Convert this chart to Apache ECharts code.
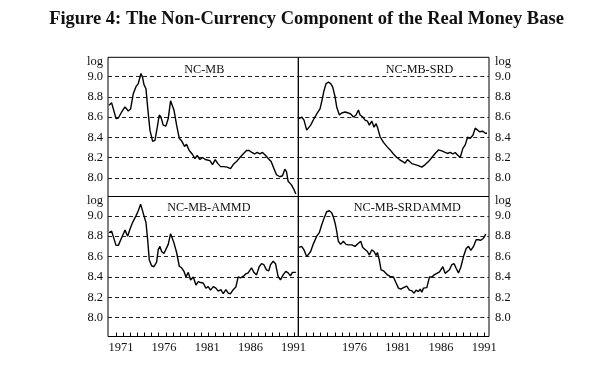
<!DOCTYPE html>
<html><head><meta charset="utf-8">
<script src="https://cdn.jsdelivr.net/npm/echarts@6/dist/echarts.min.js"></script>
<style>html,body{margin:0;padding:0;background:#fff}#c{width:600px;height:370px}</style>
</head><body><div id="c"></div>
<script>
const chartTitle = 'Figure 4: The Non-Currency Component of the Real Money Base';
const panelNames = ['NC-MB', 'NC-MB-SRD', 'NC-MB-AMMD', 'NC-MB-SRDAMMD'];
const yTickValues = [8.0, 8.2, 8.4, 8.6, 8.8, 9.0];
const xLabelsLeft = [1971, 1976, 1981, 1986, 1991];
const xLabelsRight = [1976, 1981, 1986, 1991];
const xTickValues = [1970.42,1971.25,1972.07,1972.90,1973.72,1974.55,1975.37,1976.20,1977.02,1977.85,
  1978.67,1979.50,1980.32,1981.15,1981.97,1982.80,1983.62,1984.45,1985.27,1986.10,
  1986.92,1987.75,1988.57,1989.40,1990.22,1991.05];

// NC-MB
const p1Years = [1969.62,1969.92,1970.12,1970.43,1970.70,1971.08,1971.47,1971.85,1972.12,1972.43,
  1972.74,1973.01,1973.32,1973.51,1973.67,1973.90,1974.09,1974.36,1974.67,1974.94,
  1975.21,1975.44,1975.63,1975.90,1976.21,1976.48,1976.75,1976.91,1977.14,1977.45,
  1977.76,1978.06,1978.37,1978.60,1978.91,1979.30,1979.57,1979.84,1980.15,1980.46,
  1980.77,1981.00,1981.31,1981.61,1981.92,1982.23,1982.54,1982.93,1983.31,1983.70,
  1984.01,1984.39,1984.78,1985.16,1985.55,1985.86,1986.17,1986.48,1986.78,1987.09,
  1987.40,1987.71,1988.06,1988.40,1988.71,1989.02,1989.41,1989.72,1989.99,1990.18,
  1990.37,1990.76,1991.07,1991.26];
const p1Vals = [8.716,8.74,8.73,8.585,8.59,8.65,8.70,8.66,8.68,8.83,
  8.90,8.93,9.03,8.99,8.92,8.88,8.70,8.47,8.36,8.37,
  8.50,8.62,8.60,8.52,8.51,8.585,8.76,8.77,8.67,8.52,
  8.39,8.36,8.31,8.33,8.27,8.23,8.19,8.22,8.18,8.20,
  8.18,8.19,8.17,8.13,8.18,8.14,8.11,8.11,8.105,8.09,
  8.13,8.16,8.20,8.235,8.27,8.27,8.25,8.235,8.25,8.235,
  8.25,8.225,8.19,8.16,8.095,8.03,8.01,8.02,8.085,8.06,
  7.965,7.93,7.88,7.84];

// NC-MB-SRD
const p2Years = [1969.58,1969.89,1970.16,1970.47,1970.66,1970.93,1971.32,1971.63,1972.01,1972.24,
  1972.47,1972.71,1972.98,1973.25,1973.48,1973.75,1973.94,1974.25,1974.52,1974.91,
  1975.29,1975.56,1975.87,1976.18,1976.45,1976.64,1976.95,1977.22,1977.49,1977.72,
  1977.99,1978.26,1978.49,1978.65,1978.96,1979.35,1979.73,1980.12,1980.50,1980.89,
  1981.20,1981.58,1981.85,1982.12,1982.35,1982.62,1983.01,1983.39,1983.78,1984.17,
  1984.55,1984.94,1985.32,1985.71,1986.09,1986.48,1986.75,1987.06,1987.37,1987.64,
  1987.91,1988.22,1988.53,1988.80,1989.07,1989.38,1989.69,1989.96,1990.15,1990.46,
  1990.85,1991.12,1991.32];
const p2Vals = [8.585,8.60,8.57,8.47,8.46,8.52,8.585,8.63,8.68,8.765,
  8.86,8.93,8.945,8.93,8.895,8.80,8.70,8.62,8.64,8.65,
  8.64,8.63,8.60,8.62,8.67,8.62,8.60,8.57,8.56,8.52,
  8.56,8.50,8.535,8.50,8.405,8.35,8.31,8.275,8.235,8.20,
  8.18,8.16,8.145,8.18,8.18,8.14,8.13,8.12,8.105,8.13,
  8.16,8.20,8.24,8.275,8.265,8.25,8.24,8.25,8.235,8.25,
  8.225,8.20,8.29,8.325,8.40,8.39,8.42,8.49,8.50,8.455,
  8.46,8.44,8.44];

// NC-MB-AMMD
const p3Years = [1969.62,1969.92,1970.12,1970.43,1970.70,1971.08,1971.47,1971.78,1972.05,1972.35,
  1972.74,1973.01,1973.28,1973.47,1973.67,1973.90,1974.09,1974.28,1974.55,1974.82,
  1975.13,1975.33,1975.52,1975.71,1975.98,1976.21,1976.48,1976.75,1976.91,1977.14,
  1977.45,1977.76,1978.03,1978.30,1978.53,1978.80,1979.07,1979.38,1979.69,1979.96,
  1980.23,1980.53,1980.84,1981.11,1981.38,1981.69,1982.00,1982.27,1982.58,1982.85,
  1983.16,1983.43,1983.70,1984.01,1984.31,1984.58,1984.85,1985.16,1985.47,1985.74,
  1986.13,1986.40,1986.71,1987.02,1987.29,1987.56,1987.86,1988.13,1988.33,1988.64,
  1988.91,1989.21,1989.48,1989.79,1990.10,1990.37,1990.64,1990.87,1991.26];
const p3Vals = [8.835,8.85,8.835,8.71,8.71,8.785,8.86,8.80,8.87,8.935,
  9.00,9.05,9.115,9.105,9.00,8.935,8.77,8.57,8.51,8.50,
  8.545,8.67,8.70,8.65,8.63,8.62,8.72,8.825,8.835,8.735,
  8.64,8.505,8.49,8.455,8.40,8.445,8.37,8.40,8.32,8.355,
  8.345,8.34,8.29,8.305,8.27,8.305,8.29,8.26,8.275,8.235,
  8.275,8.24,8.235,8.275,8.30,8.40,8.39,8.405,8.43,8.44,
  8.49,8.445,8.42,8.50,8.53,8.52,8.47,8.46,8.52,8.555,
  8.53,8.405,8.37,8.42,8.455,8.44,8.41,8.445,8.445];

// NC-MB-SRDAMMD
const p4Years = [1969.58,1969.89,1970.16,1970.47,1970.66,1970.93,1971.24,1971.63,1971.93,1972.20,
  1972.47,1972.78,1973.09,1973.36,1973.55,1973.75,1973.94,1974.13,1974.40,1974.71,
  1975.02,1975.29,1975.68,1976.06,1976.45,1976.72,1976.95,1977.22,1977.49,1977.72,
  1977.99,1978.26,1978.49,1978.65,1978.88,1979.07,1979.35,1979.54,1979.81,1980.12,
  1980.50,1980.81,1981.08,1981.35,1981.66,1981.85,1982.04,1982.35,1982.62,1982.89,
  1983.12,1983.39,1983.59,1983.78,1983.97,1984.36,1984.67,1984.94,1985.21,1985.52,
  1985.83,1986.21,1986.48,1986.67,1986.98,1987.25,1987.52,1987.75,1988.02,1988.29,
  1988.60,1988.91,1989.18,1989.45,1989.76,1990.06,1990.33,1990.60,1990.91,1991.18];
const p4Vals = [8.69,8.70,8.665,8.60,8.585,8.65,8.725,8.80,8.835,8.91,
  8.975,9.04,9.05,9.03,8.99,8.93,8.85,8.75,8.72,8.75,
  8.72,8.715,8.715,8.70,8.73,8.75,8.69,8.67,8.65,8.615,
  8.665,8.65,8.61,8.64,8.56,8.47,8.46,8.47,8.42,8.405,
  8.40,8.34,8.29,8.28,8.295,8.28,8.31,8.27,8.265,8.24,
  8.27,8.255,8.28,8.25,8.29,8.295,8.40,8.40,8.42,8.435,
  8.45,8.50,8.435,8.42,8.47,8.52,8.53,8.485,8.44,8.495,
  8.60,8.68,8.70,8.66,8.70,8.765,8.765,8.76,8.78,8.82];

const SERIF = "'Liberation Serif', 'DejaVu Serif', serif";
const INK = '#111';
const pair = (xs, ys) => xs.map((x, i) => [x, ys[i]]);
const seriesData = [pair(p1Years, p1Vals), pair(p2Years, p2Vals), pair(p3Years, p3Vals), pair(p4Years, p4Vals)];

const grids = [
  {left: 108, top: 57.3, width: 190.3, height: 139.2},
  {left: 298.3, top: 57.3, width: 190.7, height: 139.2},
  {left: 108, top: 196.5, width: 190.3, height: 140},
  {left: 298.3, top: 196.5, width: 190.7, height: 140}
].map(g => Object.assign(g, {show: true, borderColor: '#000', borderWidth: 1, backgroundColor: 'transparent', containLabel: false}));

const xAxes = [0,1,2,3].map(i => {
  const bottom = i >= 2;
  return {
    type: 'value', gridIndex: i, min: 1969.5, max: 1991.55,
    axisLine: {show: false},
    splitLine: {show: false},
    axisTick: {show: bottom, inside: true, length: 4, customValues: xTickValues, lineStyle: {color: '#000', width: 1}},
    axisLabel: {show: bottom, customValues: i === 2 ? xLabelsLeft : xLabelsRight, margin: 5,
      fontFamily: SERIF, fontSize: 12.5, color: INK, formatter: v => String(Math.round(v))}
  };
});

const yAxes = [0,1,2,3].map(i => {
  const right = i % 2 === 1;
  return {
    type: 'value', gridIndex: i, min: 7.815, max: 9.19, position: right ? 'right' : 'left',
    axisLine: {show: false},
    axisTick: {show: false, customValues: yTickValues},
    splitLine: {show: true, lineStyle: {color: '#222', width: 1, type: [4, 3]}},
    axisLabel: {customValues: yTickValues, margin: right ? 6 : 5, fontFamily: SERIF, fontSize: 12.5, color: INK,
      formatter: v => v.toFixed(1)}
  };
});

const series = seriesData.map((d, i) => ({
  name: panelNames[i], type: 'line', xAxisIndex: i, yAxisIndex: i, data: d,
  showSymbol: false, symbol: 'none', lineStyle: {color: '#000', width: 1.4}, z: 5
}));

const txt = (text, x, y, align, size, weight) => ({
  type: 'text', z: 100,
  style: {text: text, x: x, y: y, align: align, verticalAlign: 'middle', textAlign: align, textVerticalAlign: 'middle',
    font: (weight || 'normal') + ' ' + size + 'px ' + SERIF, fill: INK}
});

const option = {
  animation: false,
  backgroundColor: '#fff',
  grid: grids, xAxis: xAxes, yAxis: yAxes, series: series,
  graphic: [
    txt(chartTitle, 306.5, 19, 'center', 18.5, 'bold'),
    txt(panelNames[0], 204.3, 70, 'center', 12.2),
    txt(panelNames[1], 419.5, 70, 'center', 12.2),
    txt(panelNames[2], 208.8, 208.3, 'center', 12.2),
    txt(panelNames[3], 407.3, 207.5, 'center', 12.2),
    txt('log', 103, 61.5, 'right', 12.5),
    txt('log', 495, 61.5, 'left', 12.5),
    txt('log', 103, 201, 'right', 12.5),
    txt('log', 495, 200.5, 'left', 12.5)
  ]
};
const chart = echarts.init(document.getElementById('c'), null, {renderer: 'canvas'});
chart.setOption(option);
</script></body></html>
